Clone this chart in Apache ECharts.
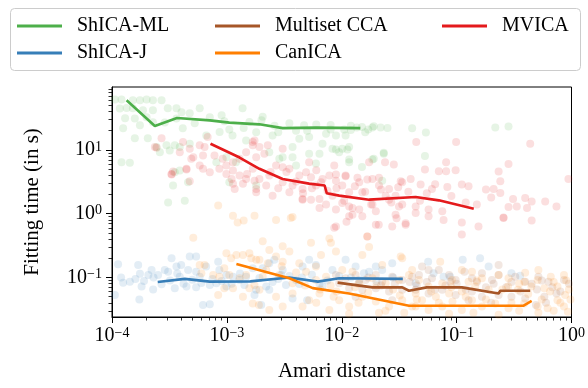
<!DOCTYPE html>
<html>
<head>
<meta charset="utf-8">
<script src="https://cdn.jsdelivr.net/npm/echarts@6/dist/echarts.min.js"></script>
<style>
  html, body { margin: 0; padding: 0; background: #ffffff; }
  #chart { width: 588px; height: 388px; }
</style>
</head>
<body>
<div id="chart"></div>
<script>
// Fitting time vs. Amari distance for five multi-view ICA methods.

const methodNames = ['ShICA-ML', 'ShICA-J', 'Multiset CCA', 'CanICA', 'MVICA'];
const methodColors = ['#4daf4a', '#377eb8', '#a65628', '#ff7f00', '#e41a1c'];

// Median curves: [Amari distance, fitting time in s]
const shicaMlCurve = [[1.34e-4, 60], [2.36e-4, 23.7], [3.68e-4, 31.7], [7.1e-4, 29.1], [1.05e-3, 26.8],
  [1.92e-3, 25.2], [3.06e-3, 22], [6e-3, 22.4], [1.45e-2, 22]];
const shicaJCurve = [[2.5e-4, 0.085], [4.3e-4, 0.095], [7.1e-4, 0.086], [1.6e-3, 0.087], [3.5e-3, 0.1],
  [6.2e-3, 0.086], [9.5e-3, 0.097], [3.4e-2, 0.095]];
const mccaCurve = [[9.2e-3, 0.083], [1.85e-2, 0.07], [3.36e-2, 0.07], [3.85e-2, 0.062], [5.5e-2, 0.07],
  [0.111, 0.07], [0.232, 0.056], [0.24, 0.062], [0.437, 0.062]];
const canicaCurve = [[1.21e-3, 0.163], [3.5e-3, 0.097], [5.6e-3, 0.068], [1.16e-2, 0.056], [2.25e-2, 0.044],
  [3.85e-2, 0.036], [0.38, 0.036], [0.45, 0.043]];
const mvicaCurve = [[7.2e-4, 12.5], [1.29e-3, 7.6], [1.92e-3, 5.06], [3.06e-3, 3.5], [5.2e-3, 2.96],
  [7.1e-3, 2.76], [7.4e-3, 2.1], [9.5e-3, 1.92], [1.73e-2, 1.66], [4.4e-2, 1.83], [7.0e-2, 1.62], [0.141, 1.2]];

// Individual runs: [Amari distance, fitting time in s]
const shicaMlRuns = [[1.06e-4, 62], [1.21e-4, 62], [1.52e-4, 60], [1.75e-4, 60], [2.0e-4, 62], [2.27e-4, 60],
  [2.7e-4, 60], [1.17e-4, 44.6], [1.34e-4, 45.5], [1.52e-4, 45], [1.86e-4, 41.9], [2.27e-4, 42], [3.06e-4, 45],
  [3.64e-4, 45], [4.03e-4, 38.9], [4.75e-4, 37.6], [5.8e-4, 45], [1.37e-3, 45], [1.3e-4, 31.3], [1.58e-4, 31],
  [2.0e-4, 32.5], [1.25e-4, 21.8], [1.75e-4, 24.3], [2.27e-4, 27.1], [2.88e-4, 27], [3.64e-4, 31], [4.13e-4, 21.8],
  [1.58e-4, 15.2], [2.05e-4, 15.2], [2.44e-4, 11.1], [2.98e-4, 11.8], [3.52e-4, 11.8], [5.25e-4, 26.1],
  [6.62e-4, 16.9], [8.65e-4, 19.1], [1.12e-3, 16.9], [1.47e-3, 14.1], [2.61e-4, 9.2], [3.18e-4, 9.8],
  [3.89e-4, 11.1], [4.75e-4, 12.5], [1.21e-4, 6.4], [1.43e-4, 6.3], [8.1e-4, 6.4], [9.9e-4, 7.7], [1.2e-3, 6.4],
  [3.52e-4, 4.47], [3.89e-4, 4.75], [4.59e-4, 3.1], [3.4e-4, 2.76], [1.05e-3, 3.1], [3.08e-4, 1.5], [4.3e-4, 1.6],
  [1.8e-3, 2.76], [1.57e-3, 27.5], [2.05e-3, 33], [1.8e-3, 19], [2.5e-3, 16.9], [4.27e-3, 15], [5.2e-3, 15.9],
  [7.3e-3, 18], [8.9e-3, 16.9], [1.08e-2, 16.9], [6.8e-3, 12.5], [8.3e-3, 10.4], [1.01e-2, 10.4], [1.16e-2, 11.1],
  [3.73e-3, 11.1], [5.2e-3, 8.7], [6.4e-3, 8.7], [9.5e-3, 9.2], [3.06e-3, 7.7], [3.73e-3, 7.7], [4.0e-3, 5.7],
  [5.96e-3, 6.1], [1.16e-2, 6.4], [1.5e-2, 5.4], [1.9e-2, 7.3], [2.32e-2, 8.7], [2.25e-2, 3.3], [1.5e-2, 22.9],
  [1.85e-2, 22.4], [2.18e-2, 22.4], [2.34e-3, 9.2], [2.86e-3, 7.3], [4.1e-2, 21.8], [5.4e-2, 18.7], [0.217, 22.4],
  [0.283, 23.2], [8.9e-3, 10.2], [1.12e-2, 10.2], [2.32e-2, 9.0], [5.3e-2, 8.0], [1.85e-2, 7.1], [1.16e-2, 7.1],
  [7.1e-4, 32.5], [9.5e-4, 28.1], [2.0e-3, 29.2], [3.5e-3, 26.1], [4.7e-3, 24.3], [1.05e-3, 21], [2.6e-3, 24],
  [4e-3, 20], [6e-3, 25], [8e-3, 21], [1.2e-2, 24], [1.6e-2, 19], [2.5e-2, 22], [1.05e-2, 21], [1.2e-2, 20.5],
  [1.35e-2, 22.5], [1.7e-2, 21], [1.9e-2, 23.5], [8e-3, 24.5], [5e-3, 20], [2.8e-3, 19], [1.4e-3, 22], [9e-4, 35]];

const mvicaRuns = [[2.7e-4, 15.3], [2.36e-4, 11.1], [4.15e-4, 13.3], [3.89e-4, 9.2], [4.75e-4, 10.4], [5.8e-4, 11.8],
  [6.4e-4, 11.1], [6.8e-4, 15.9], [5.1e-4, 7.7], [6.2e-4, 8.2], [5.8e-4, 5.7], [4.45e-4, 5.06], [4.9e-4, 7.3],
  [3.3e-4, 4.2], [3.4e-4, 4.6], [7.8e-4, 8.2], [9.2e-4, 7.3], [1.13e-3, 6.4], [1.29e-3, 7.3], [1.47e-3, 9.2],
  [1.68e-3, 11.8], [1.74e-3, 14.1], [9.9e-4, 4.2], [1.13e-3, 4.75], [1.29e-3, 3.97], [1.47e-3, 3.5], [1.74e-3, 3.3],
  [1.13e-3, 2.94], [1.38e-3, 2.94], [1.17e-3, 2.45], [1.8e-3, 2.45], [6.2e-4, 5.06], [7.1e-4, 4.47], [8.6e-4, 5.06],
  [9.9e-4, 5.7], [1.68e-3, 13.3], [1.92e-3, 11.1], [2.12e-3, 8.7], [2.27e-3, 11.8], [1.8e-3, 7.7], [3.06e-3, 10.4],
  [1.68e-3, 5.06], [1.92e-3, 3.5], [1.8e-3, 2.16], [2.2e-3, 2.76], [2.68e-3, 5.7], [3.06e-3, 5.36], [3.5e-3, 5.06],
  [2.34e-3, 3.97], [3.06e-3, 3.11], [3.73e-3, 2.76], [3.5e-3, 2.16], [2.5e-3, 1.92], [4.27e-3, 3.97], [4.89e-3, 4.47],
  [5.4e-3, 3.73], [5.96e-3, 2.76], [4.56e-3, 2.45], [6.8e-3, 3.5], [7.8e-3, 3.97], [8.9e-3, 3.3], [1.08e-2, 3.97],
  [1.01e-2, 2.76], [6.4e-3, 1.7], [4.56e-3, 1.7], [8.3e-3, 1.92], [1.16e-2, 2.16], [1.51e-2, 2.16], [1.42e-2, 3.11],
  [1.85e-2, 3.5], [2.11e-2, 2.76], [2.41e-2, 1.92], [2.58e-2, 2.45], [2.94e-2, 1.92], [3.36e-2, 3.11], [5.2e-3, 6.4],
  [4.45e-2, 13.3], [9.9e-2, 13.3], [0.437, 12.5], [1.73e-2, 6.4], [2.38e-2, 6.4], [2.84e-2, 5.9], [5.3e-2, 4.93],
  [7.0e-2, 4.63], [8.1e-2, 4.63], [9.8e-2, 4.81], [8.1e-2, 6.4], [0.232, 4.6], [0.283, 6.0], [8.6e-3, 5.7],
  [8.9e-3, 4.1], [1.08e-2, 3.87], [1.37e-2, 3.65], [1.67e-2, 3.43], [2.11e-2, 3.65], [3.26e-2, 3.22], [3.98e-2, 3.5],
  [4.86e-2, 2.86], [6.1e-2, 2.45], [8.3e-2, 2.63], [0.111, 2.86], [0.127, 2.69], [0.24, 3.22], [0.21, 2.45],
  [0.24, 2.12], [0.94, 3.5], [0.31, 1.7], [0.395, 1.77], [0.45, 1.56], [0.59, 1.56], [0.74, 1.3], [0.334, 1.3],
  [0.41, 1.23], [0.45, 0.78], [0.256, 0.875], [0.155, 0.63], [0.111, 0.73], [7.7e-2, 0.8], [5.7e-2, 0.91],
  [3.6e-2, 0.71], [2.75e-2, 0.63], [1.98e-2, 0.67], [1.24e-2, 1.23], [1.16e-2, 0.91], [8.9e-3, 0.63], [1.01e-2, 1.47],
  [1.85e-2, 1.39], [2.58e-2, 1.66], [3.36e-2, 1.39], [4.4e-2, 1.3], [5.7e-2, 1.16], [7.5e-2, 1.09], [2.94e-2, 0.96],
  [1.51e-2, 0.91], [4.56e-3, 1.66], [5.4e-3, 1.66], [6.4e-3, 1.23], [7.3e-3, 1.39], [8.9e-3, 1.16], [1.16e-2, 1.3],
  [1.42e-2, 1.16], [1.24e-2, 0.96], [1.98e-2, 1.09], [2.1e-2, 0.67], [3.6e-2, 0.67], [4.4e-2, 1.03], [3.15e-2, 1.3],
  [8.6e-3, 0.6], [1.67e-2, 0.44], [0.15, 1.39], [0.256, 0.86], [0.283, 1.27], [2.44e-4, 10.8], [3.3e-4, 4.1],
  [4.45e-4, 4.93], [4.75e-4, 3.22], [0.111, 0.47], [1.1e-3, 3.5], [1.5e-3, 4.2], [2.4e-3, 4.5], [2.8e-3, 2.5],
  [3.3e-3, 4.5], [4e-3, 3.2], [4.6e-3, 2.1], [5.5e-3, 2.5], [6e-3, 4.8], [6.6e-3, 3.1], [7.5e-3, 2.3], [9e-3, 2.5],
  [1.05e-2, 1.6], [1.3e-2, 2.7], [1.6e-2, 2.2], [1.8e-2, 1.4], [2.2e-2, 2.4], [2.7e-2, 1.5], [3.1e-2, 2.6],
  [3.8e-2, 2.2], [4.8e-2, 1.6], [5.5e-2, 2.1], [6.5e-2, 2.9], [9e-2, 1.9], [0.12, 1.5], [0.18, 2.4], [0.2, 1.8],
  [3e-2, 0.85], [1.1e-2, 0.75]];

const shicaJRuns = [[1.13e-4, 0.161], [1.06e-4, 0.053], [1.25e-4, 0.083], [1.43e-4, 0.086], [1.69e-4, 0.157],
  [1.75e-4, 0.114], [1.81e-4, 0.072], [1.73e-4, 0.045], [2.07e-4, 0.109], [2.21e-4, 0.131], [2.28e-4, 0.065],
  [2.52e-4, 0.109], [2.88e-4, 0.131], [3.08e-4, 0.123], [3.3e-4, 0.2], [3.64e-4, 0.148], [3.89e-4, 0.103],
  [3.52e-4, 0.068], [4.0e-4, 0.157], [4.75e-4, 0.213], [5.4e-4, 0.213], [4.6e-4, 0.131], [5.4e-4, 0.123],
  [4.45e-4, 0.072], [5.4e-4, 0.07], [5.8e-4, 0.103], [6.6e-4, 0.148], [6.2e-4, 0.037], [7.1e-4, 0.038],
  [8.4e-4, 0.177], [8.6e-4, 0.131], [9.9e-4, 0.109], [7.1e-4, 0.076], [8.1e-4, 0.081], [9.9e-4, 0.072],
  [1.13e-3, 0.103], [1.29e-3, 0.091], [1.47e-3, 0.103], [1.68e-3, 0.14], [1.8e-3, 0.064], [1.74e-3, 0.053],
  [1.99e-3, 0.037], [2.2e-3, 0.072], [2.59e-3, 0.189], [2.97e-3, 0.109], [3.27e-3, 0.076], [4.0e-3, 0.091],
  [4.56e-3, 0.148], [5.2e-3, 0.189], [5.96e-3, 0.157], [6.8e-3, 0.072], [8.3e-3, 0.131], [1.08e-2, 0.189],
  [1.32e-2, 0.148], [1.73e-2, 0.123], [2.25e-2, 0.131], [2.75e-2, 0.167], [3.73e-3, 0.047], [5.0e-3, 0.044],
  [2.05e-3, 0.14], [2.34e-3, 0.167], [3.06e-3, 0.131], [5.65e-2, 0.177], [0.113, 0.189], [0.16, 0.2], [0.19, 0.148],
  [6.3e-2, 0.116], [7.7e-2, 0.103], [8.8e-2, 0.103], [0.30, 0.116], [0.357, 0.106], [4.4e-2, 0.081],
  [1.98e-2, 0.148], [1.56e-2, 0.116], [1.92e-3, 0.098], [3.5e-3, 0.105], [6.4e-3, 0.079], [9.5e-3, 0.105],
  [1.42e-2, 0.091], [4.27e-3, 0.079], [1.42e-3, 0.076], [2.34e-3, 0.064], [1.2e-4, 0.1], [1.6e-4, 0.095],
  [1.9e-4, 0.088], [2.3e-4, 0.1], [2.7e-4, 0.078], [3.2e-4, 0.09], [3.7e-4, 0.115], [4.2e-4, 0.08], [5e-4, 0.092],
  [6e-4, 0.082], [7.5e-4, 0.095], [9e-4, 0.088], [1.1e-3, 0.08], [1.3e-3, 0.115], [2.5e-3, 0.085], [2.8e-3, 0.095],
  [4.5e-3, 0.1], [5.5e-3, 0.11], [7.5e-3, 0.09], [1.2e-2, 0.1], [2e-2, 0.088], [2.8e-2, 0.1]];

const canicaRuns = [[8.4e-4, 1.34], [1.13e-3, 0.93], [1.24e-3, 0.73], [1.4e-3, 0.78], [1.74e-3, 0.93], [5.1e-4, 0.42],
  [9.9e-4, 0.24], [1.09e-3, 0.2], [1.21e-3, 0.226], [1.38e-3, 0.226], [1.57e-3, 0.24], [1.63e-3, 0.2], [1.8e-3, 0.189],
  [5.8e-4, 0.157], [6.4e-4, 0.157], [6.0e-4, 0.116], [7.6e-4, 0.109], [8.6e-4, 0.103], [9.5e-4, 0.14], [1.05e-3, 0.109],
  [1.29e-3, 0.097], [1.47e-3, 0.109], [8.4e-4, 0.053], [9.5e-4, 0.068], [1.13e-3, 0.068], [1.38e-3, 0.05],
  [1.57e-3, 0.068], [1.74e-3, 0.076], [1.9e-3, 0.037], [2.68e-3, 0.8], [3.73e-3, 0.89], [3.6e-3, 0.86], [2.05e-3, 0.37],
  [2.34e-3, 0.27], [3.06e-3, 0.31], [2.68e-3, 0.213], [3.5e-3, 0.255], [5.4e-3, 0.35], [7.8e-3, 0.41], [8.05e-3, 0.35],
  [6.6e-3, 0.226], [1.51e-2, 0.226], [3.36e-2, 0.2], [1.92e-3, 0.189], [2.27e-3, 0.167], [3.06e-3, 0.177],
  [4.27e-3, 0.167], [5.96e-3, 0.148], [2.05e-3, 0.103], [2.86e-3, 0.109], [3.73e-3, 0.081], [4.89e-3, 0.123],
  [5.96e-3, 0.091], [7.3e-3, 0.103], [1.92e-3, 0.064], [2.68e-3, 0.05], [3.73e-3, 0.056], [5.2e-3, 0.044],
  [6.4e-3, 0.056], [7.8e-3, 0.031], [9.5e-3, 0.044], [1.16e-2, 0.035], [1.51e-2, 0.05], [1.98e-2, 0.042],
  [2.58e-2, 0.035], [3.36e-2, 0.044], [4.1e-2, 0.035], [4.4e-2, 0.056], [1.42e-2, 0.081], [1.85e-2, 0.097],
  [2.41e-2, 0.081], [3.15e-2, 0.091], [3.85e-2, 0.109], [1.01e-2, 0.131], [1.24e-2, 0.123], [2.25e-2, 0.157],
  [4.56e-3, 0.035], [3.06e-3, 0.035], [2.34e-3, 0.031], [1.68e-3, 0.039], [7.2e-2, 0.177], [0.111, 0.131],
  [0.136, 0.123], [0.395, 0.119], [0.515, 0.131], [4.1e-2, 0.131], [4.7e-2, 0.091], [5.7e-2, 0.072], [7.5e-2, 0.081],
  [9.1e-2, 0.091], [0.127, 0.086], [0.166, 0.097], [0.232, 0.109], [0.283, 0.097], [0.388, 0.086], [0.507, 0.091],
  [0.66, 0.103], [0.86, 0.109], [0.755, 0.072], [0.58, 0.068], [0.447, 0.072], [0.342, 0.064], [0.28, 0.072],
  [0.19, 0.064], [0.145, 0.072], [0.111, 0.06], [8.6e-2, 0.056], [6.6e-2, 0.05], [5.0e-2, 0.044], [4.4e-2, 0.035],
  [5.7e-2, 0.031], [7.5e-2, 0.035], [0.111, 0.031], [0.166, 0.035], [0.217, 0.039], [0.283, 0.033], [0.388, 0.039],
  [0.507, 0.035], [0.62, 0.033], [0.755, 0.044], [0.88, 0.053], [0.86, 0.035], [0.136, 0.044], [9.2e-2, 0.042],
  [8.9e-3, 0.255], [1.67e-2, 0.44], [1.73e-2, 0.3], [3.26e-2, 0.213], [1.16e-2, 0.027], [2.11e-2, 0.028],
  [8.6e-2, 0.027], [0.232, 0.026], [0.515, 0.028], [0.93, 0.029], [2.2e-3, 0.13], [3e-3, 0.15], [4e-3, 0.12],
  [4.8e-3, 0.075], [6.5e-3, 0.065], [8e-3, 0.075], [9e-3, 0.06], [1.3e-2, 0.07], [1.7e-2, 0.058], [2e-2, 0.075],
  [2.8e-2, 0.065], [3.2e-2, 0.052], [4.5e-2, 0.045], [6e-2, 0.06], [7e-2, 0.04], [9e-2, 0.07], [0.12, 0.05],
  [0.15, 0.09], [0.18, 0.045], [0.25, 0.065], [0.3, 0.04], [0.35, 0.08], [0.42, 0.055], [0.55, 0.045], [0.65, 0.06],
  [0.7, 0.085], [0.8, 0.04], [0.95, 0.065], [0.9, 0.09], [0.98, 0.045], [6e-3, 0.04], [8.5e-3, 0.05], [1.4e-2, 0.04],
  [2.4e-2, 0.03], [3.5e-2, 0.028], [0.14, 0.028], [0.35, 0.03], [0.7, 0.03]];

const mccaRuns = [[4.7e-2, 0.109], [6.1e-2, 0.097], [8.6e-2, 0.109], [7.0e-2, 0.131], [9.8e-2, 0.091], [0.117, 0.123],
  [0.136, 0.097], [0.166, 0.116], [0.203, 0.091], [0.232, 0.109], [0.324, 0.103], [0.395, 0.086], [0.515, 0.103],
  [0.63, 0.086], [0.86, 0.091], [4.4e-2, 0.064], [5.7e-2, 0.056], [7.5e-2, 0.064], [9.8e-2, 0.053], [0.136, 0.06],
  [0.166, 0.05], [0.232, 0.053], [0.3, 0.05], [0.395, 0.047], [0.58, 0.05], [0.74, 0.056], [4.1e-2, 0.103],
  [5.0e-2, 0.148], [8.8e-2, 0.086], [8.9e-3, 0.109], [1.08e-2, 0.097], [1.32e-2, 0.109], [1.61e-2, 0.091],
  [1.98e-2, 0.109], [2.25e-2, 0.086], [2.75e-2, 0.103], [3.36e-2, 0.091], [1.16e-2, 0.068], [1.51e-2, 0.064],
  [1.98e-2, 0.068], [2.58e-2, 0.06], [3.36e-2, 0.064], [1.32e-2, 0.05], [9.5e-3, 0.081], [5.7e-2, 0.131],
  [0.232, 0.157], [0.127, 0.044], [0.49, 0.037], [2.75e-2, 0.044], [1.4e-2, 0.08], [1.7e-2, 0.1], [2.2e-2, 0.075],
  [2.9e-2, 0.08], [3.9e-2, 0.085], [4.5e-2, 0.075], [5.5e-2, 0.085], [6.5e-2, 0.065], [8e-2, 0.075], [0.1, 0.08],
  [0.12, 0.065], [0.15, 0.085], [0.18, 0.07], [0.21, 0.08], [0.27, 0.07], [0.3, 0.085], [0.36, 0.06], [0.45, 0.08],
  [0.5, 0.065], [0.55, 0.09], [0.68, 0.07], [0.8, 0.06], [0.95, 0.08], [0.6, 0.04], [0.2, 0.04]];

// Axis ticks
const xMajorTicks = [1e-4, 1e-3, 1e-2, 1e-1, 1];
const xMinorTicks = [2e-4, 3e-4, 4e-4, 5e-4, 6e-4, 7e-4, 8e-4, 9e-4, 2e-3, 3e-3, 4e-3, 5e-3, 6e-3, 7e-3, 8e-3, 9e-3,
  2e-2, 3e-2, 4e-2, 5e-2, 6e-2, 7e-2, 8e-2, 9e-2, 0.2, 0.3, 0.4, 0.5, 0.6, 0.7, 0.8, 0.9];
const yMajorTicks = [0.1, 1, 10];
const yMinorTicks = [0.03, 0.04, 0.05, 0.06, 0.07, 0.08, 0.09, 0.2, 0.3, 0.4, 0.5, 0.6, 0.7, 0.8, 0.9,
  2, 3, 4, 5, 6, 7, 8, 9, 20, 30, 40, 50, 60, 70, 80, 90];
const xRange = [1e-4, 1];
const yRange = [0.024, 97];

const curves = [shicaMlCurve, shicaJCurve, mccaCurve, canicaCurve, mvicaCurve];
const runs = [shicaMlRuns, shicaJRuns, mccaRuns, canicaRuns, mvicaRuns];

const FONT = "'Liberation Serif', 'DejaVu Serif', serif";

function powerLabel(v) {
  const e = Math.round(Math.log10(v));
  return '{b|10}{s|' + String(e).replace('-', '\u2212') + '}';
}
const powerRich = {
  b: { fontFamily: FONT, fontSize: 20, color: '#000' },
  s: { fontFamily: FONT, fontSize: 14, color: '#000', verticalAlign: 'top' }
};

function makeAxis(kind, range, major, minor, isMajor) {
  const base = {
    type: 'log', logBase: 10, min: range[0], max: range[1], gridIndex: 0,
    position: kind === 'x' ? 'bottom' : 'left',
    splitLine: { show: false }, minorTick: { show: false }, minorSplitLine: { show: false },
    axisPointer: { show: false }
  };
  if (isMajor) {
    return Object.assign(base, {
      axisLine: { show: true, lineStyle: { color: '#000', width: 1 } },
      axisTick: { show: true, inside: false, length: 6, customValues: major, lineStyle: { color: '#000', width: 1 } },
      axisLabel: { show: true, customValues: major, margin: kind === 'x' ? 9 : 10, formatter: powerLabel, rich: powerRich,
        fontFamily: FONT, fontSize: 20, color: '#000' },
      name: kind === 'x' ? 'Amari distance' : 'Fitting time (in s)',
      nameLocation: 'middle',
      nameGap: kind === 'x' ? 44 : 69,
      nameTextStyle: { fontFamily: FONT, fontSize: 21, color: '#000' }
    });
  }
  return Object.assign(base, {
    axisLine: { show: false },
    axisTick: { show: true, inside: false, length: 3.5, customValues: minor, lineStyle: { color: '#000', width: 0.8 } },
    axisLabel: { show: false }
  });
}

const series = [];
runs.forEach((pts, i) => {
  series.push({
    name: methodNames[i] + ' runs', type: 'scatter', data: pts, xAxisIndex: 0, yAxisIndex: 0,
    symbol: 'circle', symbolSize: 8, color: methodColors[i],
    itemStyle: { color: methodColors[i], opacity: 0.14 }, z: 2, silent: true
  });
});
curves.forEach((pts, i) => {
  series.push({
    name: methodNames[i], type: 'line', data: pts, xAxisIndex: 0, yAxisIndex: 0,
    showSymbol: false, symbol: 'none', color: methodColors[i],
    lineStyle: { color: methodColors[i], width: 2.6 }, z: 5, silent: true
  });
});

// Legend grid: three columns, two rows (column-major order)
const legendOrder = ['ShICA-ML', 'ShICA-J', 'Multiset CCA', 'CanICA', 'MVICA'];
const legendLeft = [17, 17, 215, 215, 442];
const legendTop = [16, 43, 16, 43, 16];
const legends = legendOrder.map((name, i) => ({
  data: [name], left: legendLeft[i], top: legendTop[i], padding: 0, itemGap: 0,
  icon: 'rect', itemWidth: 45, itemHeight: 3, selectedMode: false,
  textStyle: { fontFamily: FONT, fontSize: 20, color: '#000', padding: [0, 0, 0, 10] }
}));

const chart = echarts.init(document.getElementById('chart'), null, { renderer: 'canvas' });
chart.setOption({
  animation: false,
  backgroundColor: '#ffffff',
  grid: { left: 112, top: 87, width: 461, height: 230, show: true, borderColor: '#000', borderWidth: 1,
    backgroundColor: 'transparent', containLabel: false },
  xAxis: [makeAxis('x', xRange, xMajorTicks, xMinorTicks, true), makeAxis('x', xRange, xMajorTicks, xMinorTicks, false)],
  yAxis: [makeAxis('y', yRange, yMajorTicks, yMinorTicks, true), makeAxis('y', yRange, yMajorTicks, yMinorTicks, false)],
  legend: legends,
  graphic: [{
    type: 'rect', left: 10, top: 8, z: 0,
    shape: { width: 570, height: 62, r: 4 },
    style: { fill: 'rgba(255,255,255,0.8)', stroke: '#cccccc', lineWidth: 1 }
  }],
  series: series
});
</script>
</body>
</html>
